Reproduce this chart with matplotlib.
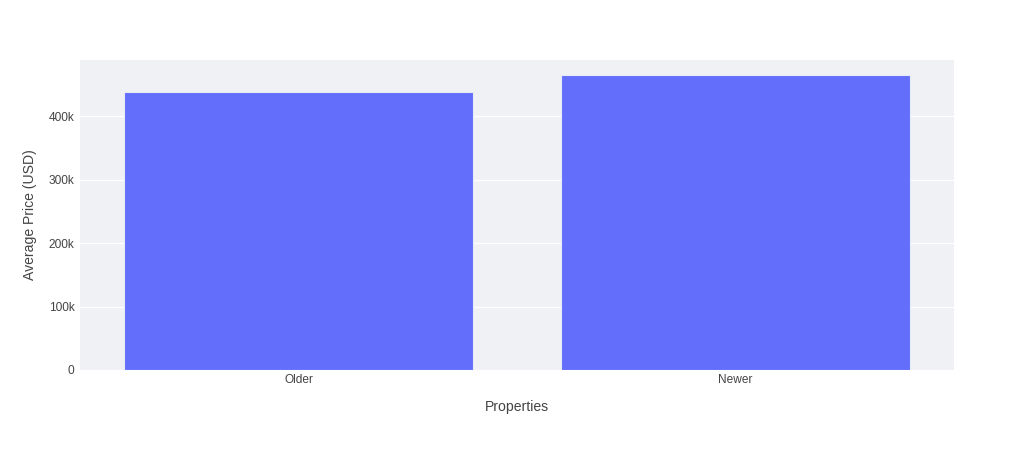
import matplotlib.pyplot as plt
from matplotlib.ticker import FuncFormatter

# average price per group
categories = ['Older', 'Newer']
avg_price = [438000, 464800]
yticks = [0, 100000, 200000, 300000, 400000]

plt.rcParams['font.family'] = ['Liberation Sans', 'DejaVu Sans']
text_color = '#444444'

fig = plt.figure(figsize=(10.34, 4.5), dpi=100)
ax = fig.add_axes([80 / 1034, 80 / 450, 874 / 1034, 310 / 450])
ax.set_facecolor('#f0f1f5')

ax.bar(categories, avg_price, width=0.8, color='#636efa',
       edgecolor='#e5ecf6', linewidth=0.8, zorder=3)

ax.set_xlim(-0.5, 1.5)
ax.set_ylim(0, 489000)
ax.set_yticks(yticks)
ax.yaxis.set_major_formatter(FuncFormatter(lambda v, p: '0' if v == 0 else f'{int(v / 1000)}k'))
ax.grid(axis='y', color='white', linewidth=1, zorder=0)

for s in ax.spines.values():
    s.set_visible(False)
ax.tick_params(axis='both', length=0, labelsize=8.6, labelcolor=text_color)
ax.tick_params(axis='y', pad=4)
ax.tick_params(axis='x', pad=3)

ax.set_xlabel('Properties', fontsize=10.1, color=text_color, labelpad=10)
ax.set_ylabel('Average Price (USD)', fontsize=10.1, color=text_color, labelpad=8)

fig.savefig('out.png', dpi=100)
